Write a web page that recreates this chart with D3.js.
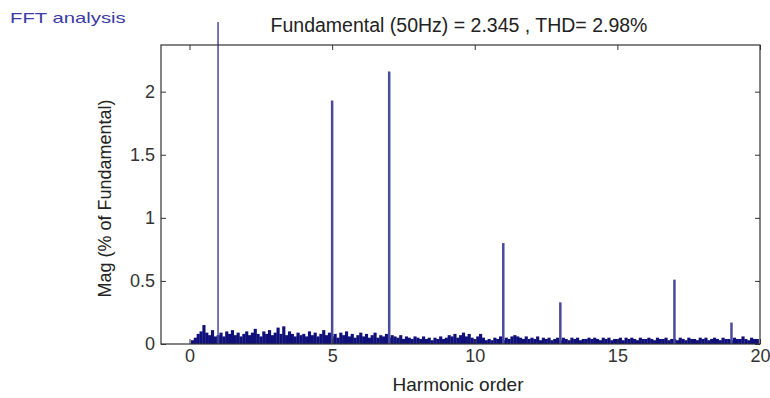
<!DOCTYPE html>
<html>
<head>
<meta charset="utf-8">
<script src="https://cdn.jsdelivr.net/npm/d3@7"></script>
<style>
  body { margin: 0; background: #fff; }
  text { font-family: "Liberation Sans", Arial, sans-serif; }
</style>
</head>
<body>
<svg id="chart"></svg>
<script>
// harmonic spikes
const harmonicOrders = [1, 5, 7, 11, 13, 17, 19];
const harmonicMags = [100, 1.93, 2.16, 0.80, 0.33, 0.51, 0.17];

// interharmonic noise, one value every 0.1 harmonic order from 0.0 to 19.9
const noiseStep = 0.1;
const noiseMags = [
  0.00,0.03,0.05,0.08,0.10,0.15,0.09,0.07,0.11,0.06,
  0.07,0.09,0.06,0.10,0.08,0.11,0.07,0.09,0.06,0.08,
  0.10,0.07,0.09,0.12,0.08,0.06,0.10,0.08,0.11,0.07,
  0.09,0.13,0.08,0.14,0.07,0.10,0.08,0.06,0.09,0.07,
  0.08,0.06,0.10,0.07,0.09,0.06,0.08,0.11,0.07,0.09,
  0.06,0.08,0.05,0.09,0.07,0.10,0.06,0.08,0.05,0.07,
  0.09,0.06,0.08,0.05,0.07,0.09,0.05,0.07,0.06,0.08,
  0.05,0.07,0.06,0.05,0.07,0.04,0.06,0.05,0.04,0.06,
  0.05,0.04,0.06,0.04,0.05,0.03,0.05,0.04,0.06,0.04,
  0.05,0.07,0.06,0.08,0.05,0.07,0.09,0.06,0.08,0.05,
  0.04,0.06,0.08,0.05,0.03,0.04,0.03,0.05,0.04,0.06,
  0.03,0.05,0.04,0.06,0.07,0.06,0.05,0.04,0.06,0.04,
  0.05,0.04,0.06,0.03,0.05,0.04,0.05,0.03,0.04,0.05,
  0.03,0.05,0.04,0.03,0.05,0.04,0.05,0.03,0.04,0.04,
  0.05,0.04,0.05,0.04,0.03,0.05,0.04,0.05,0.03,0.04,
  0.04,0.05,0.03,0.05,0.04,0.05,0.04,0.03,0.05,0.04,
  0.04,0.05,0.04,0.03,0.05,0.04,0.04,0.05,0.03,0.04,
  0.04,0.03,0.05,0.04,0.03,0.05,0.04,0.04,0.03,0.05,
  0.04,0.05,0.03,0.04,0.05,0.04,0.03,0.05,0.04,0.04,
  0.03,0.05,0.04,0.04,0.06,0.04,0.03,0.05,0.04,0.04
];

const xTicks = [0, 5, 10, 15, 20];
const yTicks = [0, 0.5, 1, 1.5, 2];

const width = 770;
const height = 398;
const plotLeft = 161, plotRight = 760, plotTop = 45, plotBottom = 344;

const x = d3.scaleLinear([-1, 20], [plotLeft, plotRight]);
const y = d3.scaleLinear([0, 2.37], [plotBottom, plotTop]);

const svg = d3.select("#chart")
  .attr("width", width)
  .attr("height", height)
  .attr("viewBox", [0, 0, width, height]);

svg.append("defs").append("clipPath")
  .attr("id", "clip")
  .append("rect")
  .attr("x", plotLeft).attr("y", 22)
  .attr("width", plotRight - plotLeft).attr("height", plotBottom - 22);

// titles
svg.append("text")
  .attr("transform", "translate(10,23) scale(1.45,1)")
  .attr("fill", "#3b3ba6")
  .style("font-size", "14px")
  .text("FFT analysis");

svg.append("text")
  .attr("x", 459).attr("y", 32)
  .attr("text-anchor", "middle")
  .attr("fill", "#222")
  .style("font-size", "19.5px")
  .text("Fundamental (50Hz) = 2.345 , THD= 2.98%");

// noise bars
const noise = noiseMags.map((v, i) => ({ h: i * noiseStep, v }));
const g = svg.append("g").attr("clip-path", "url(#clip)");

g.selectAll(".noise")
  .data(noise)
  .join("rect")
  .attr("class", "noise")
  .attr("x", d => x(d.h - noiseStep / 2))
  .attr("width", x(noiseStep) - x(0) + 0.3)
  .attr("y", d => y(d.v))
  .attr("height", d => y(0) - y(d.v))
  .attr("fill", "#10107a");

// harmonic spikes
g.selectAll(".spike")
  .data(harmonicOrders.map((h, i) => ({ h, v: harmonicMags[i] })))
  .join("line")
  .attr("class", "spike")
  .attr("x1", d => x(d.h)).attr("x2", d => x(d.h))
  .attr("y1", y(0))
  .attr("y2", d => y(d.v))
  .attr("stroke", "#4a4a9c")
  .attr("stroke-width", (d, i) => i === 0 ? 1.5 : 2.5);

// axes (box with inward ticks)
const axisColor = "#333";
const tickFont = "18px";
svg.append("g")
  .attr("transform", `translate(0,${plotBottom})`)
  .call(d3.axisBottom(x).tickValues(xTicks).tickSize(-5).tickPadding(5).tickSizeOuter(0))
  .call(a => a.select(".domain").remove())
  .call(a => a.selectAll("line").attr("stroke", axisColor))
  .call(a => a.selectAll("text").attr("fill", "#333").style("font-size", tickFont)
    .style("font-family", "'Liberation Sans', Arial, sans-serif"));

svg.append("g")
  .attr("transform", `translate(0,${plotTop})`)
  .call(d3.axisTop(x).tickValues(xTicks).tickSize(-5).tickFormat("").tickSizeOuter(0))
  .call(a => a.select(".domain").remove())
  .call(a => a.selectAll("line").attr("stroke", axisColor));

svg.append("g")
  .attr("transform", `translate(${plotLeft},0)`)
  .call(d3.axisLeft(y).tickValues(yTicks).tickFormat(d => d).tickSize(-5).tickPadding(6).tickSizeOuter(0))
  .call(a => a.select(".domain").remove())
  .call(a => a.selectAll("line").attr("stroke", axisColor))
  .call(a => a.selectAll("text").attr("fill", "#333").style("font-size", tickFont)
    .style("font-family", "'Liberation Sans', Arial, sans-serif"));

svg.append("g")
  .attr("transform", `translate(${plotRight},0)`)
  .call(d3.axisRight(y).tickValues(yTicks).tickSize(-5).tickFormat("").tickSizeOuter(0))
  .call(a => a.select(".domain").remove())
  .call(a => a.selectAll("line").attr("stroke", axisColor));

svg.append("rect")
  .attr("x", plotLeft).attr("y", plotTop)
  .attr("width", plotRight - plotLeft).attr("height", plotBottom - plotTop)
  .attr("fill", "none")
  .attr("stroke", axisColor)
  .attr("stroke-width", 1.2);

// axis labels
svg.append("text")
  .attr("x", 458).attr("y", 391)
  .attr("text-anchor", "middle")
  .attr("fill", "#222")
  .style("font-size", "19px")
  .text("Harmonic order");

svg.append("text")
  .attr("transform", `translate(111,${(plotTop + plotBottom) / 2 + 4}) rotate(-90)`)
  .attr("text-anchor", "middle")
  .attr("fill", "#222")
  .style("font-size", "18px")
  .text("Mag (% of Fundamental)");
</script>
</body>
</html>
